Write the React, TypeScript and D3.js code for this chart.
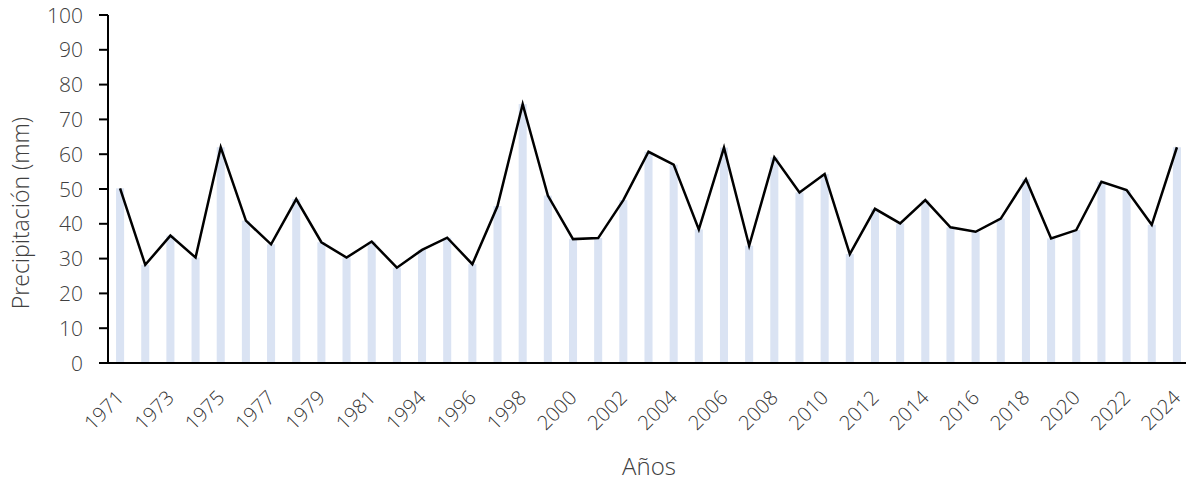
import React from "react";
import * as d3 from "d3";

const years: string[] = [
  "1971","1972","1973","1974","1975","1976","1977","1978","1979","1980","1981","1982",
  "1994","1995","1996","1997","1998","1999","2000","2001","2002","2003","2004","2005",
  "2006","2007","2008","2009","2010","2011","2012","2013","2014","2015","2016","2017",
  "2018","2019","2020","2021","2022","2023","2024",
];
const labeledYears: string[] = [
  "1971","1973","1975","1977","1979","1981","1994","1996","1998","2000","2002","2004",
  "2006","2008","2010","2012","2014","2016","2018","2020","2022","2024",
];
const precip: number[] = [
  50.2, 28.2, 36.6, 30.3, 62.0, 40.9, 34.1, 47.1, 34.7, 30.3, 34.9, 27.4,
  32.5, 36.0, 28.4, 45.1, 74.4, 48.1, 35.6, 35.9, 46.8, 60.7, 57.0, 38.4,
  61.9, 33.7, 59.1, 49.0, 54.3, 31.3, 44.3, 40.1, 46.8, 39.0, 37.7, 41.5,
  52.8, 35.8, 38.2, 52.1, 49.7, 39.7, 62.0,
];
const yTicks: number[] = [0, 10, 20, 30, 40, 50, 60, 70, 80, 90, 100];

const W = 1186;
const H = 481;
const FONT = "'Open Sans', 'Segoe UI', sans-serif";

export default function App() {
  const x = d3.scaleBand<string>().domain(years).range([107.5, 1189.5]).paddingInner(0.68).paddingOuter(0.34);
  const y = d3.scaleLinear().domain([0, 100]).range([363, 15]);
  const cx = (d: string) => (x(d) as number) + x.bandwidth() / 2;
  const line = d3
    .line<number>()
    .x((_, i) => cx(years[i]))
    .y((v) => y(v));

  return (
    <svg width={W} height={H} style={{ position: "absolute", left: 0, top: 0, background: "#fff" }}>
      {years.map((yr, i) => (
        <rect key={yr} x={x(yr)} y={y(precip[i])} width={x.bandwidth()} height={y(0) - y(precip[i])} fill="#dae3f3" />
      ))}
      <path d={line(precip) || ""} fill="none" stroke="#000" strokeWidth={2.5} strokeLinejoin="miter" />
      {/* y axis */}
      <line x1={108} x2={108} y1={y(100)} y2={y(0)} stroke="#000" strokeWidth={2} />
      {yTicks.map((t) => (
        <g key={t}>
          <line x1={99} x2={108} y1={y(t)} y2={y(t)} stroke="#000" strokeWidth={2} />
          <text x={83} y={y(t)} dy="0.36em" textAnchor="end" fontFamily={FONT} fontWeight={300} fontSize={21} fill="#404040">
            {t}
          </text>
        </g>
      ))}
      {/* x axis */}
      <line x1={99} x2={W} y1={y(0)} y2={y(0)} stroke="#000" strokeWidth={2} />
      {labeledYears.map((yr) => (
        <text
          key={yr}
          transform={`translate(${cx(yr) + 5},${399}) rotate(-45)`}
          textAnchor="end"
          fontFamily={FONT}
          fontWeight={300}
          fontSize={20}
          fill="#333"
        >
          {yr}
        </text>
      ))}
      <text x={649} y={475} textAnchor="middle" fontFamily={FONT} fontWeight={300} fontSize={24} fill="#404040">
        Años
      </text>
      <text
        transform={`translate(29,${213}) rotate(-90)`}
        textAnchor="middle"
        fontFamily={FONT}
        fontWeight={300}
        fontSize={23}
        fill="#404040"
      >
        Precipitación (mm)
      </text>
    </svg>
  );
}
